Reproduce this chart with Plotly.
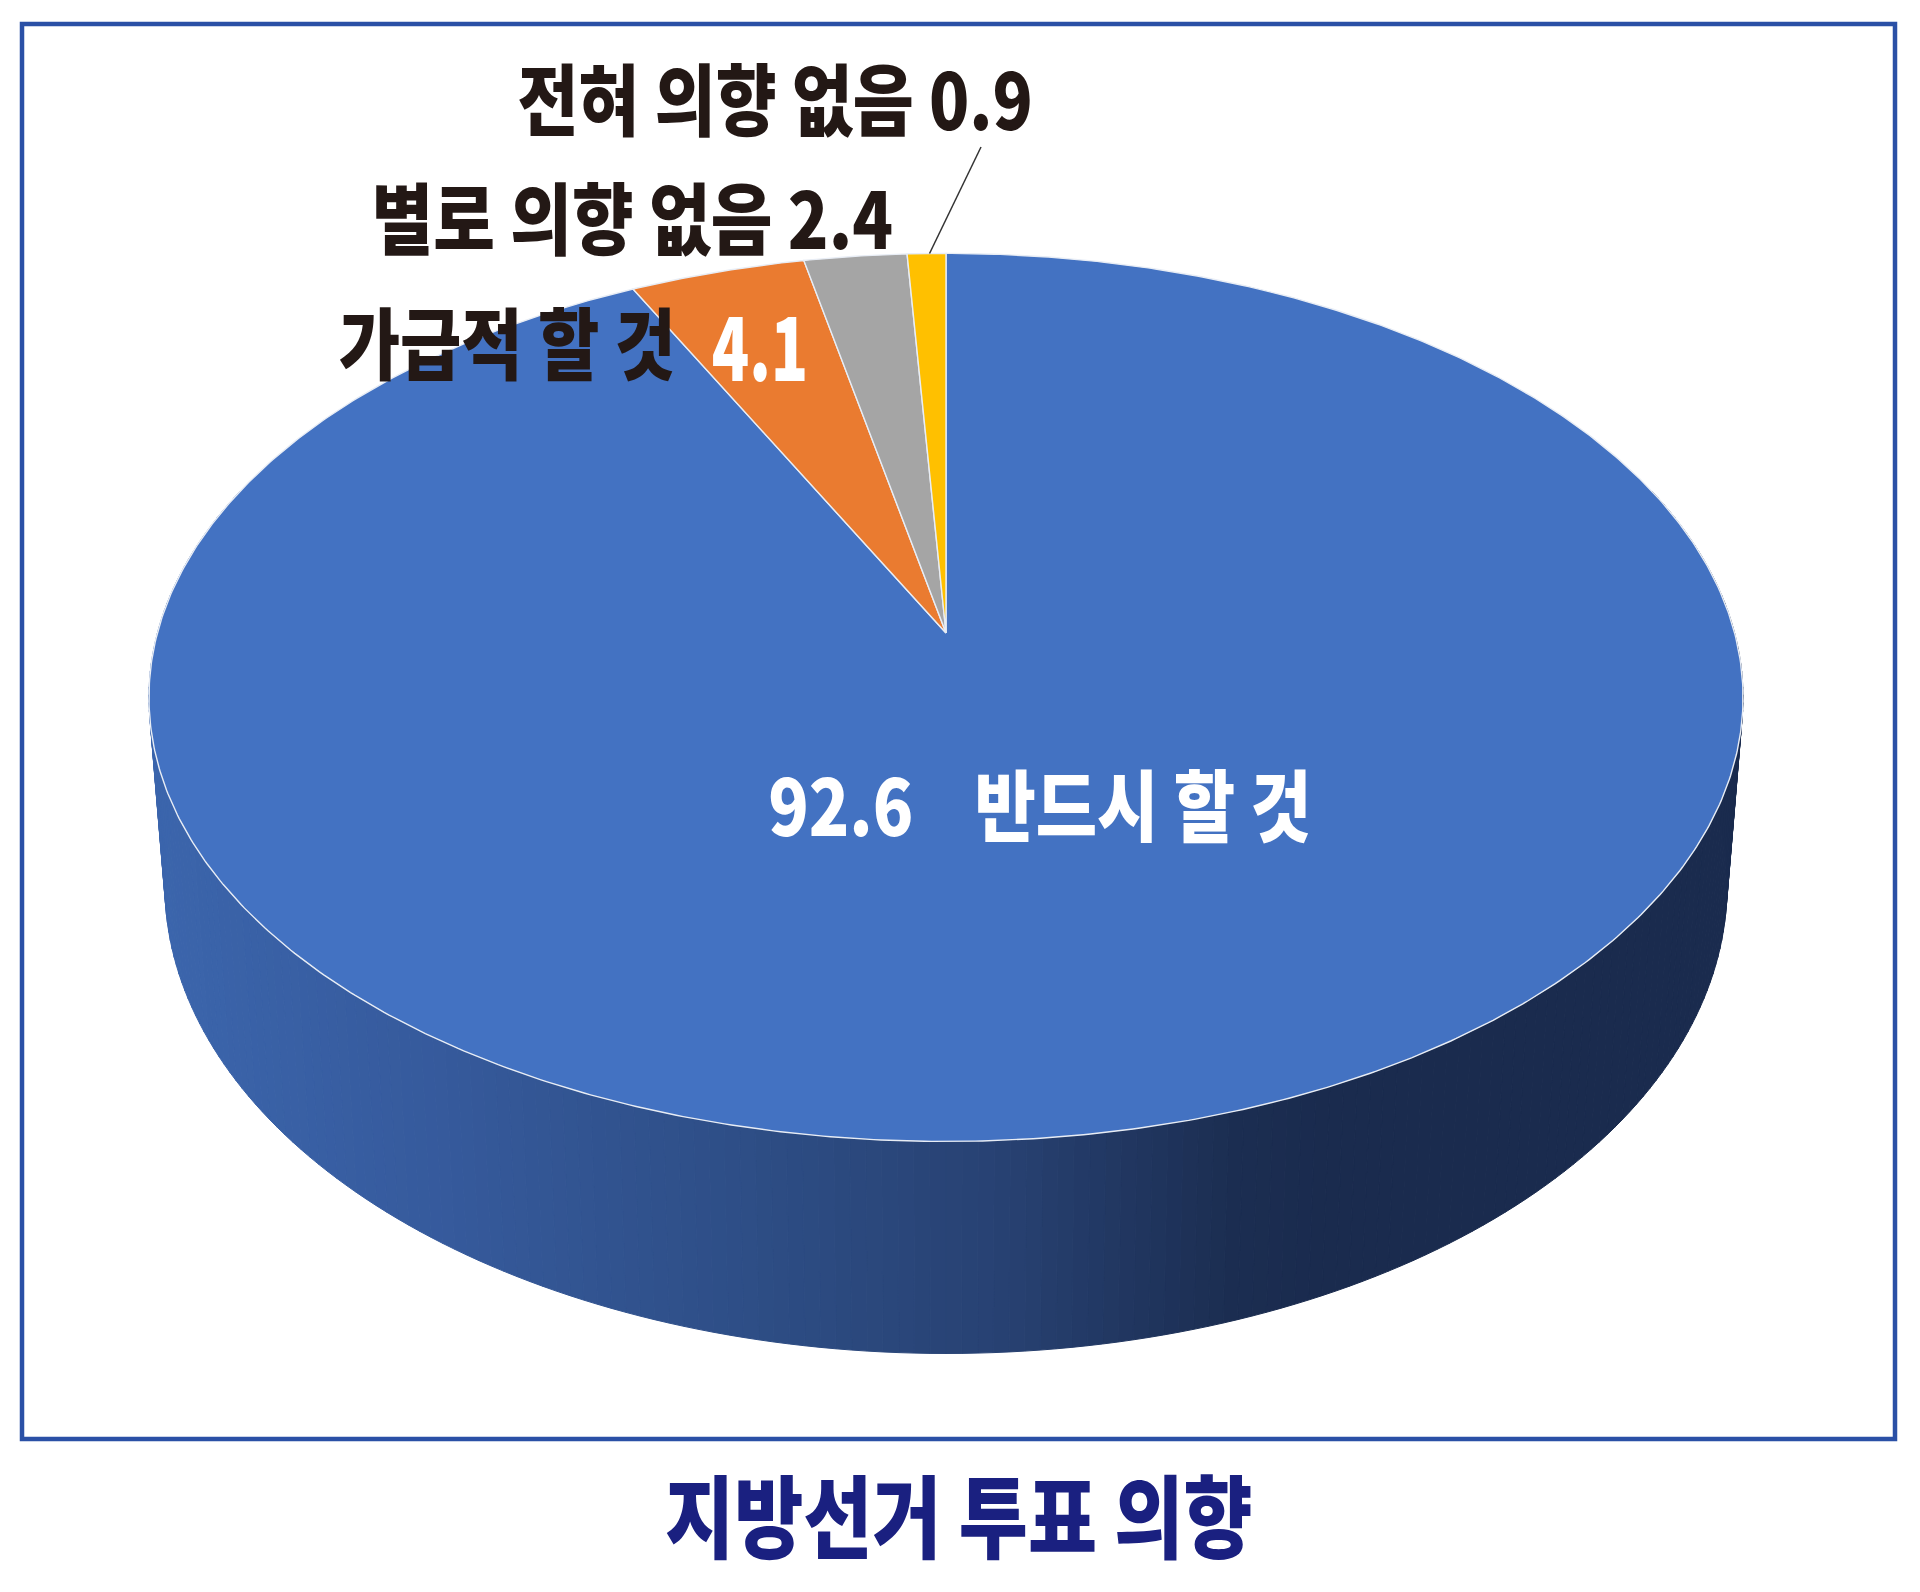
import json

import numpy as np
import plotly.graph_objects as go

# clockwise from 12 o'clock
categories = ['반드시 할 것', '가급적 할 것', '별로 의향 없음', '전혀 의향 없음']
values = [92.6, 4.1, 2.4, 0.9]
colors = ['#4372c2', '#ea7b30', '#a5a5a5', '#ffc000']
title = '지방선거 투표 의향'

# pie geometry, in page pixels
CX, CY = 946, 633
RX, RY = 788.6, 434.7
PERSP = 0.145
WALL_SX, WALL_SY = 0.98, 1.054
WALL_DROP = 184.6

# wall shade by page x
wall_x = [150, 450, 750, 1000, 1230, 1340, 1800]
wall_r = [60, 54, 46, 40, 28, 26, 26]
wall_g = [102, 90, 78, 66, 46, 43, 43]
wall_b = [173, 156, 134, 115, 82, 78, 78]

FONT = 'Noto Sans CJK KR'
DARK = '#231815'


def project(angle, sx=1.0, sy=1.0, drop=0.0):
    # angle in radians, clockwise from the top of the disc
    u, v = np.sin(angle), np.cos(angle)
    w = 1 + PERSP * v
    return CX + sx * RX * u / w, CY + drop - sy * RY * v / w


fig = go.Figure()

# side wall as thin strips, painted first so the top covers the far part
edges = np.radians(np.linspace(70, 290, 221))
for a0, a1 in zip(edges[:-1], edges[1:]):
    x0, y0 = project(a0)
    x1, y1 = project(a1)
    x2, y2 = project(a1, WALL_SX, WALL_SY, WALL_DROP)
    x3, y3 = project(a0, WALL_SX, WALL_SY, WALL_DROP)
    mid = (x0 + x1 + x2 + x3) / 4
    shade = 'rgb(%d,%d,%d)' % (np.interp(mid, wall_x, wall_r),
                               np.interp(mid, wall_x, wall_g),
                               np.interp(mid, wall_x, wall_b))
    fig.add_trace(go.Scatter(x=[x0, x1, x2, x3, x0], y=[y0, y1, y2, y3, y0],
                             mode='lines', fill='toself', fillcolor=shade,
                             line=dict(color=shade, width=1), hoverinfo='skip'))

# top face, one polygon per value
start = 0.0
mid_angles = []
total = sum(values)
for name, value, color in zip(categories, values, colors):
    sweep = value / total * 2 * np.pi
    t = np.linspace(start, start + sweep, max(int(value * 8), 12))
    x, y = project(t)
    fig.add_trace(go.Scatter(x=np.r_[CX, x, CX], y=np.r_[CY, y, CY], name=name,
                             mode='lines', fill='toself', fillcolor=color,
                             line=dict(color='#e8edf5', width=1.4), hoverinfo='skip'))
    mid_angles.append(start + sweep / 2)
    start += sweep

# leader line of the smallest slice
end_x, end_y = project(mid_angles[3])
fig.add_shape(type='line', x0=981, y0=147, x1=end_x + 3, y1=end_y,
              line=dict(color='#333333', width=1.5))

# frame
fig.add_shape(type='rect', x0=22, y0=24, x1=1895, y1=1439,
              line=dict(color='#2a50a6', width=4.5))

labels = [
    (f'{categories[3]} {values[3]}', 775, 96, 78, DARK, 0.85),
    (f'{categories[2]} {values[2]}', 632, 215, 78, DARK, 0.86),
    (categories[1], 507, 340, 78, DARK, 0.855),
    (str(values[1]), 760, 342, 88, 'white', 0.70),
    (f'{values[0]}    {categories[0]}', 1040, 802, 78, 'white', 0.855),
    (title, 959, 1512, 90, '#1a2080', 0.835),
]
for text, x, y, size, color, _ in labels:
    fig.add_annotation(x=x, y=y, text=text, showarrow=False, xanchor='center', yanchor='middle',
                       font=dict(family=FONT, size=size, color=color, weight=900))

fig.update_xaxes(range=[0, 1920], visible=False, fixedrange=True)
fig.update_yaxes(range=[1592, 0], visible=False, fixedrange=True)
fig.update_layout(width=1920, height=1592, margin=dict(l=0, r=0, t=0, b=0),
                  showlegend=False, paper_bgcolor='white', plot_bgcolor='white')

# the labels in the original are set in a condensed cut
squeeze = """
document.body.style.margin = '0';
var widths = %s;
document.querySelectorAll('.annotation-text').forEach(function (el, i) {
  el.style.transformBox = 'fill-box';
  el.style.transformOrigin = 'center';
  el.style.transform = 'scaleX(' + widths[i] + ')';
});
""" % json.dumps([row[5] for row in labels])
fig.write_html("out.html", post_script=squeeze, config=dict(displayModeBar=False))
